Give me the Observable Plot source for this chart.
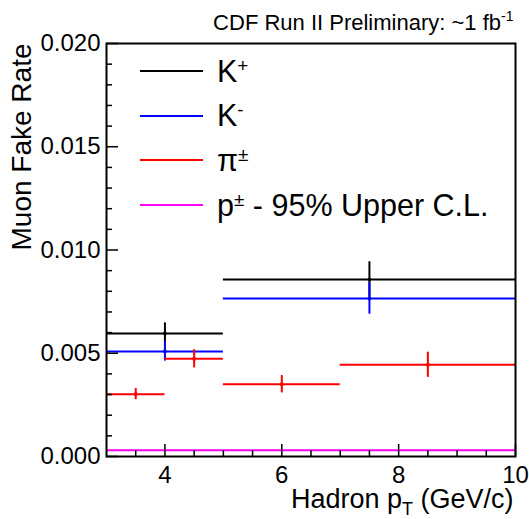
<!DOCTYPE html>
<html><head><meta charset="utf-8">
<script src="https://cdn.jsdelivr.net/npm/d3@7"></script>
<script src="https://cdn.jsdelivr.net/npm/@observablehq/plot@0.6"></script>
<style>
html,body{margin:0;padding:0;background:#fff;}
#wrap{position:relative;width:529px;height:519px;font-family:"Liberation Sans",Arial,Helvetica,sans-serif;}
#legend{position:absolute;left:140px;top:48.6px;}
.row{display:flex;align-items:center;height:44.7px;}
.row svg{display:block;}
.row span{margin-left:14px;font-size:30.5px;line-height:1;color:#000;white-space:nowrap;}
.row sup{font-size:0.62em;vertical-align:0.55em;line-height:0;}
</style></head>
<body><div id="wrap"><div id="legend"></div></div>
<script>
// ---- data ----
const seriesNames = ["K+", "K-", "pi", "p"];
const seriesColors = ["#000000", "#0000ff", "#ff0000", "#ff00ff"];
const legendBase = ["K", "K", "π", "p"];
const legendSup = ["+", "-", "±", "±"];
const legendSuffix = ["", "", "", " - 95% Upper C.L."];

const kPlusLow = [3, 5];
const kPlusHigh = [5, 10];
const kPlusRate = [0.00596, 0.00857];
const kPlusErr = [0.00051, 0.00086];

const kMinusLow = [3, 5];
const kMinusHigh = [5, 10];
const kMinusRate = [0.00509, 0.00765];
const kMinusErr = [0.00047, 0.00076];

const piLow = [3, 4, 5, 7];
const piHigh = [4, 5, 7, 10];
const piRate = [0.00302, 0.00473, 0.0035, 0.00444];
const piErr = [0.00027, 0.00044, 0.00042, 0.00061];

const protonLow = [3];
const protonHigh = [10];
const protonRate = [0.0003];

const xTickValues = [4, 6, 8, 10];
const xMinorTicks = [3.5, 4.5, 5, 5.5, 6.5, 7, 7.5, 8.5, 9, 9.5];
const yTickValues = [0, 0.005, 0.01, 0.015, 0.02];
const yMinorTicks = [0.001, 0.002, 0.003, 0.004, 0.006, 0.007, 0.008, 0.009,
  0.011, 0.012, 0.013, 0.014, 0.016, 0.017, 0.018, 0.019];

const titleText = "CDF Run II Preliminary: ~1 fb";
const titleSup = "-1";
const xLabelMain = "Hadron p";
const xLabelSub = "T";
const xLabelRest = " (GeV/c)";
const yLabel = "Muon Fake Rate";

// ---- build ----
function rows(lo, hi, rate, err) {
  return lo.map((l, i) => ({lo: l, hi: hi[i], mid: (l + hi[i]) / 2, rate: rate[i], err: err ? err[i] : null}));
}
const series = [
  rows(kPlusLow, kPlusHigh, kPlusRate, kPlusErr),
  rows(kMinusLow, kMinusHigh, kMinusRate, kMinusErr),
  rows(piLow, piHigh, piRate, piErr),
  rows(protonLow, protonHigh, protonRate, null)
];

const marks = [];
series.forEach((data, s) => {
  const c = seriesColors[s];
  marks.push(Plot.ruleY(data, {y: "rate", x1: "lo", x2: "hi", stroke: c, strokeWidth: 2}));
  if (data[0].err != null) {
    marks.push(Plot.ruleX(data, {x: "mid", y1: d => d.rate - d.err, y2: d => d.rate + d.err, stroke: c, strokeWidth: 2}));
    marks.push(Plot.dot(data, {x: "mid", y: "rate", symbol: "square", r: 1.8, fill: c}));
  }
});

const chart = Plot.plot({
  width: 529, height: 519,
  marginLeft: 106, marginRight: 14, marginTop: 43, marginBottom: 63,
  style: {fontFamily: "Liberation Sans, Arial, Helvetica, sans-serif", fontSize: "24px", background: "#fff", color: "#000"},
  x: {domain: [3, 10]},
  y: {domain: [0, 0.02]},
  marks: [
    ...marks,
    Plot.axisX(xMinorTicks, {anchor: "bottom", tickSize: -6, tickFormat: () => "", label: null, strokeWidth: 1.5}),
    Plot.axisX(xTickValues, {anchor: "bottom", tickSize: -12, tickFormat: () => "", label: null, strokeWidth: 1.5}),
    Plot.axisX(xTickValues, {anchor: "bottom", tickSize: 0, tickPadding: 9, tickFormat: d3.format("d"), label: null}),
    Plot.axisY(yMinorTicks, {anchor: "left", tickSize: -6, tickFormat: () => "", label: null, strokeWidth: 1.5}),
    Plot.axisY(yTickValues, {anchor: "left", tickSize: -12, tickFormat: () => "", label: null, strokeWidth: 1.5}),
    Plot.axisY(yTickValues, {anchor: "left", tickSize: 0, tickPadding: 6, tickFormat: d3.format(".3f"), label: null}),
    Plot.frame({stroke: "#000", strokeWidth: 2}),
    Plot.text([titleText], {frameAnchor: "top-right", textAnchor: "end", dx: -2, dy: -29, fontSize: 22, className: "ttl"}),
    Plot.text([xLabelMain], {frameAnchor: "bottom-right", textAnchor: "end", dx: -2, dy: 51, fontSize: 27, className: "xlab"}),
    Plot.text([yLabel], {frameAnchor: "top-left", textAnchor: "end", rotate: -90, dx: -95, dy: 0, fontSize: 28})
  ]
});

// superscript / subscript tspans
const svg = d3.select(chart);
const t = svg.select("g.ttl text");
t.append("tspan").attr("font-size", 14).attr("dy", -9).text(titleSup);
const xl = svg.select("g.xlab text");
xl.append("tspan").attr("font-size", 18).attr("dy", 7).text(xLabelSub);
xl.append("tspan").attr("font-size", 27).attr("dy", -7).text(xLabelRest);

const wrap = document.getElementById("wrap");
wrap.insertBefore(chart, wrap.firstChild);

// legend
const legend = d3.select("#legend");
seriesNames.forEach((n, i) => {
  const row = legend.append("div").attr("class", "row");
  const s = row.append("svg").attr("width", 63).attr("height", 4);
  s.append("line").attr("x1", 0).attr("x2", 63).attr("y1", 2).attr("y2", 2)
    .attr("stroke", seriesColors[i]).attr("stroke-width", 2);
  const sp = row.append("span");
  sp.append("tspan").text(legendBase[i]);
  sp.append("sup").text(legendSup[i]);
  sp.append("tspan").text(legendSuffix[i]);
});
</script></body></html>
